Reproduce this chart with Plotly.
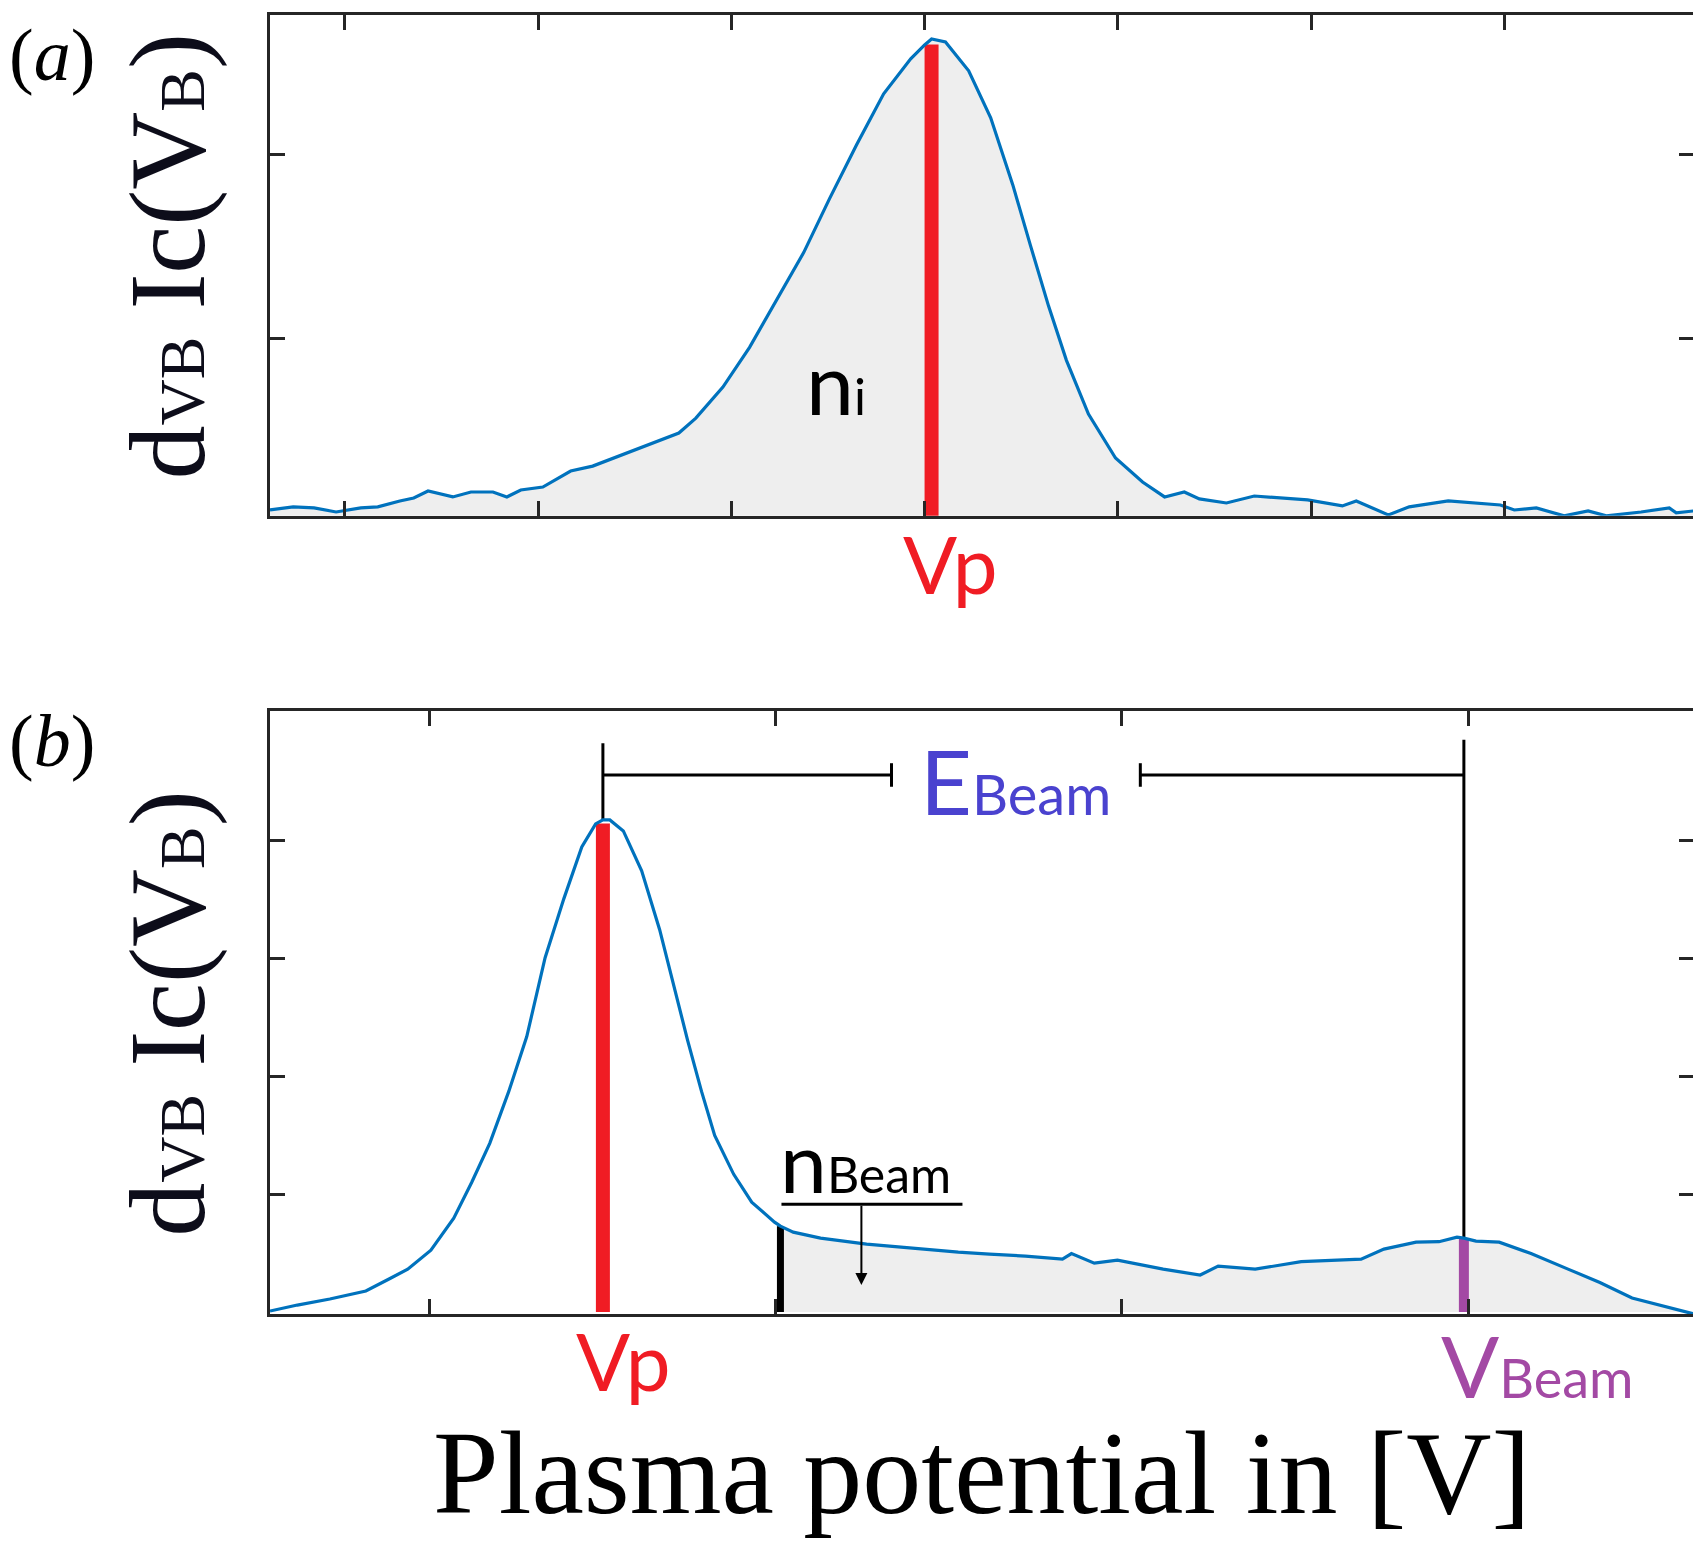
import numpy as np
import plotly.graph_objects as go

# ---------------- data ----------------
# panel (a): single ion peak
pot_a = [-1.94, -1.34, -0.80, -0.23, 0.41, 0.85, 1.42, 1.78, 2.15, 2.79, 3.26, 3.83, 4.19, 4.55,
         5.12, 5.84, 6.41, 7.01, 7.81, 8.64, 9.08, 9.78, 10.47, 11.17, 11.87, 12.54, 13.24, 13.94,
         14.64, 15.00, 15.18, 15.54, 16.14, 16.71, 17.28, 17.74, 18.21, 18.67, 19.24, 19.94, 20.64,
         21.21, 21.72, 22.11, 22.81, 23.53, 24.44, 24.91, 25.81, 26.17, 27.00, 27.54, 28.55, 29.35,
         29.90, 30.26, 30.83, 31.55, 32.17, 32.64, 33.54, 34.27, 34.45, 34.91]
sig_a = [0.065, 0.082, 0.076, 0.054, 0.076, 0.082, 0.114, 0.130, 0.168, 0.136, 0.163, 0.163, 0.136, 0.174,
         0.190, 0.277, 0.304, 0.353, 0.418, 0.484, 0.565, 0.734, 0.951, 1.212, 1.467, 1.761, 2.054, 2.332,
         2.522, 2.598, 2.630, 2.614, 2.457, 2.201, 1.837, 1.505, 1.174, 0.880, 0.587, 0.348, 0.217,
         0.136, 0.163, 0.125, 0.103, 0.141, 0.125, 0.120, 0.087, 0.114, 0.038, 0.082, 0.114, 0.103,
         0.092, 0.065, 0.076, 0.033, 0.060, 0.033, 0.054, 0.076, 0.049, 0.060]

# panel (b): ion peak plus beam
pot_b = [-4.62, -3.83, -2.89, -1.85, -1.18, -0.64, 0.03, 0.69, 1.21, 1.73, 2.28, 2.80, 3.33, 3.87, 4.39,
         4.79, 5.00, 5.20, 5.59, 6.12, 6.64, 7.05, 7.45, 7.85, 8.23, 8.78, 9.30, 9.96, 10.13, 10.50,
         11.29, 12.62, 13.95, 15.27, 16.17, 17.21, 18.28, 18.54, 19.20, 19.87, 21.19, 22.26, 22.78,
         23.85, 25.18, 26.91, 27.57, 28.50, 29.16, 29.68, 29.88, 30.23, 30.90, 31.82, 32.89, 33.81,
         34.74, 35.54, 36.32, 36.53]
sig_b = [0.008, 0.059, 0.110, 0.178, 0.280, 0.364, 0.525, 0.797, 1.102, 1.432, 1.873, 2.339, 3.008, 3.508,
         3.949, 4.144, 4.178, 4.178, 4.085, 3.746, 3.246, 2.771, 2.305, 1.873, 1.500, 1.169, 0.932, 0.763,
         0.729, 0.678, 0.627, 0.576, 0.542, 0.508, 0.492, 0.475, 0.449, 0.496, 0.415, 0.441, 0.364,
         0.314, 0.390, 0.364, 0.427, 0.449, 0.534, 0.593, 0.597, 0.636, 0.627, 0.602, 0.593, 0.496,
         0.364, 0.250, 0.119, 0.059, 0.003, -0.017]

VP_A = 15.18          # plasma potential, panel (a)
VP_B = 5.00           # plasma potential, panel (b)
V_BEAM = 29.88        # beam potential, panel (b)
N_BEAM_START = 10.13  # start of beam density integration

XTICKS_A = [0, 5, 10, 15, 20, 25, 30]
YTICKS_A = [1, 2]
XTICKS_B = [0, 10, 20, 30]
YTICKS_B = [1, 2, 3, 4]

# ---------------- styling ----------------
OFF = 8                      # page body margin of the html page
W, H = 1693, 1537
ML, MR, MT, MB = 262, 6, 4, 231
PW, PH = W - ML - MR, H - MT - MB
BLUE = "#0072BD"
FILL = "#EEEEEE"
RED = "#F01C24"
PURPLE = "#A349A4"
EBLUE = "#4A42CF"
AXC = "#262626"
SERIF = "Liberation Serif"
SANS = "Lato"


def PX(px):
    """page pixel x -> paper x"""
    return (px - OFF - ML) / PW


def PY(py):
    """page pixel y -> paper y"""
    return 1 - (py - OFF - MT) / PH


fig = go.Figure()

pa = np.array(pot_a)
sa = np.array(sig_a)
pb = np.array(pot_b)
sb = np.array(sig_b)

# panel (a) fill
fig.add_trace(go.Scatter(x=pa, y=sa, mode="lines", line=dict(width=0), fill="tozeroy",
                         fillcolor=FILL, xaxis="x", yaxis="y", hoverinfo="skip"))
# panel (a) Vp line
fig.add_trace(go.Scatter(x=[VP_A, VP_A], y=[0, np.interp(VP_A, pa, sa) - 0.03], mode="lines",
                         line=dict(color=RED, width=14), xaxis="x", yaxis="y"))
fig.add_trace(go.Scatter(x=pa, y=sa, mode="lines", line=dict(color=BLUE, width=3.2),
                         xaxis="x", yaxis="y"))

# panel (b) fill beyond beam start
mask = pb >= N_BEAM_START
fx = np.concatenate([[N_BEAM_START], pb[mask]])
fy = np.concatenate([[np.interp(N_BEAM_START, pb, sb)], sb[mask]])
fig.add_trace(go.Scatter(x=fx, y=fy, mode="lines", line=dict(width=0), fill="tozeroy",
                         fillcolor=FILL, xaxis="x2", yaxis="y2", hoverinfo="skip"))
fig.add_trace(go.Scatter(x=[VP_B, VP_B], y=[0, np.interp(VP_B, pb, sb) - 0.03], mode="lines",
                         line=dict(color=RED, width=14), xaxis="x2", yaxis="y2"))
fig.add_trace(go.Scatter(x=[V_BEAM, V_BEAM], y=[0, np.interp(V_BEAM, pb, sb)], mode="lines",
                         line=dict(color=PURPLE, width=10), xaxis="x2", yaxis="y2"))
fig.add_trace(go.Scatter(x=[N_BEAM_START, N_BEAM_START], y=[0, np.interp(N_BEAM_START, pb, sb)],
                         mode="lines", line=dict(color="black", width=7), xaxis="x2", yaxis="y2"))
# E_beam bracket
BR_Y = 4.56
CAP = 0.10
br_left_end = 13.34
br_right_start = 20.53
bracket_x = [VP_B, VP_B, None, VP_B, br_left_end, None, br_left_end, br_left_end, None,
             br_right_start, br_right_start, None, br_right_start, V_BEAM, None, V_BEAM, V_BEAM]
bracket_y = [np.interp(VP_B, pb, sb), 4.83, None, BR_Y, BR_Y, None, BR_Y - CAP, BR_Y + CAP, None,
             BR_Y - CAP, BR_Y + CAP, None, BR_Y, BR_Y, None, np.interp(V_BEAM, pb, sb), 4.86]
fig.add_trace(go.Scatter(x=bracket_x, y=bracket_y, mode="lines", line=dict(color="black", width=3),
                         xaxis="x2", yaxis="y2"))
# n_beam underline
fig.add_trace(go.Scatter(x=[10.16, 15.39], y=[0.915, 0.915], mode="lines",
                         line=dict(color="black", width=3), xaxis="x2", yaxis="y2"))
fig.add_trace(go.Scatter(x=pb, y=sb, mode="lines", line=dict(color=BLUE, width=3.2),
                         xaxis="x2", yaxis="y2"))

axis_common = dict(showline=True, linecolor=AXC, linewidth=3, mirror="ticks", ticks="inside",
                   ticklen=15, tickwidth=3, tickcolor=AXC, showticklabels=False, showgrid=False,
                   zeroline=False, fixedrange=True)

fig.update_layout(
    width=W, height=H, margin=dict(l=ML, r=MR, t=MT, b=MB),
    paper_bgcolor="white", plot_bgcolor="white", showlegend=False,
    xaxis=dict(domain=[0, 1], range=[-1.94, 34.91], tickvals=XTICKS_A, anchor="y", **axis_common),
    yaxis=dict(domain=[PY(514), 1], range=[0.033, 2.761], tickvals=YTICKS_A, anchor="x", **axis_common),
    xaxis2=dict(domain=[0, 1], range=[-4.62, 36.53], tickvals=XTICKS_B, anchor="y2", **axis_common),
    yaxis2=dict(domain=[0, PY(710)], range=[-0.017, 5.10], tickvals=YTICKS_B, anchor="x2", **axis_common),
)

ann = []


def label(text, px, py, size, color="black", family=SANS, xanchor="center", yanchor="middle", angle=0):
    ann.append(dict(text=text, x=PX(px), y=PY(py), xref="paper", yref="paper", showarrow=False,
                    xanchor=xanchor, yanchor=yanchor, textangle=angle,
                    font=dict(family=family, size=size, color=color)))


label("(<i>a</i>)", 52, OFF + 1, 74, family=SERIF, yanchor="top")
label("(<i>b</i>)", 52, 740, 74, family=SERIF)
ytitle = 'd<span style="font-size:64px">VB</span> Ic(V<span style="font-size:64px">B</span>)'
label(ytitle, 168, 254, 108, color="#0d0d1a", family=SERIF, angle=-90)
label(ytitle, 168, 1013, 108, color="#0d0d1a", family=SERIF, angle=-90)
label("Vp", 951, 561, 80, color=RED)
label("Vp", 624, 1360, 80, color=RED)
label('V<span style="font-size:54px">Beam</span>', 1440, 1365, 86, color=PURPLE, xanchor="left")
label('E<span style="font-size:56px">Beam</span>', 918, 779, 90, color=EBLUE, xanchor="left")
label('n<span style="font-size:50px">Beam</span>', 778, 1160, 84, color="black", xanchor="left")
label('n<span style="font-size:50px">i</span>', 804, 379, 86, color="black", xanchor="left")
label("Plasma potential in [V]", 983, 1474, 118, family=SERIF)

# arrow for n_beam
ann.append(dict(x=12.47, y=0.229, ax=12.47, ay=0.915, xref="x2", yref="y2", axref="x2", ayref="y2",
                showarrow=True, arrowhead=2, arrowsize=1.2, arrowwidth=2, arrowcolor="black", text=""))

fig.update_layout(annotations=ann)
fig.write_html("out.html")
